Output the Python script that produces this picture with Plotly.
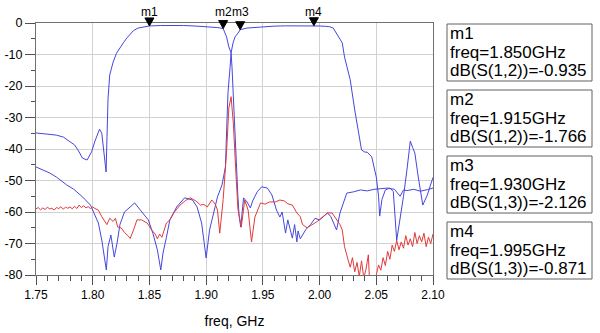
import plotly.graph_objects as go

# ---------------- data ----------------
s12_freq = [1.750, 1.756, 1.762, 1.768, 1.774, 1.780, 1.784, 1.787, 1.791, 1.795, 1.799, 1.802,
            1.804, 1.806, 1.808, 1.809, 1.8105, 1.811, 1.8118, 1.8126, 1.8135, 1.815, 1.818, 1.821,
            1.824, 1.827, 1.830, 1.833, 1.836, 1.840, 1.844, 1.850, 1.860, 1.870, 1.880, 1.890,
            1.900, 1.906, 1.910, 1.915, 1.918, 1.920, 1.922, 1.9228, 1.9237, 1.9246, 1.926, 1.927,
            1.928, 1.929, 1.9305, 1.933, 1.936, 1.939, 1.941, 1.945, 1.949, 1.954, 1.958, 1.962,
            1.965, 1.967, 1.970, 1.972, 1.974, 1.976, 1.978, 1.980, 1.981, 1.983, 1.985, 1.988,
            1.992, 1.996, 2.000, 2.005, 2.007, 2.010, 2.012, 2.015, 2.018, 2.021, 2.024, 2.030,
            2.036, 2.042, 2.048, 2.054, 2.060, 2.066, 2.071, 2.074, 2.077, 2.083, 2.089, 2.095, 2.100]
s12_db = [-34.9, -35.1, -35.2, -35.6, -36.2, -37.8, -38.7, -40.3, -42.9, -43.5, -40.9, -37.5,
          -35.6, -33.7, -35.0, -38.5, -42.0, -45.5, -47.3, -36.0, -24.0, -16.5, -12.4, -9.6,
          -7.8, -6.3, -4.8, -3.5, -2.4, -1.6, -1.3, -0.935, -0.8, -0.75, -0.8, -0.95,
          -1.15, -1.3, -1.45, -1.766, -4.4, -7.6, -9.5, -14.0, -22.0, -30.8, -40.0, -47.0,
          -55.0, -61.0, -64.8, -55.5, -56.8, -58.7, -56.5, -53.6, -52.0, -52.4, -54.6, -59.4,
          -61.6, -60.0, -66.7, -62.5, -65.0, -68.3, -64.0, -69.5, -66.0, -68.5, -67.3, -65.5,
          -64.0, -62.0, -62.5, -61.0, -60.3, -61.5, -63.0, -65.7, -60.3, -56.8, -54.0, -53.6,
          -53.0, -53.3, -52.8, -52.6, -52.4, -52.8, -55.0, -53.0, -53.2, -52.8, -53.4, -52.9, -52.4]

s13_freq = [1.750, 1.756, 1.762, 1.768, 1.777, 1.783, 1.786, 1.791, 1.798, 1.800, 1.805, 1.808,
            1.812, 1.8135, 1.816, 1.819, 1.8215, 1.824, 1.828, 1.833, 1.837, 1.842, 1.846, 1.849,
            1.853, 1.857, 1.860, 1.862, 1.865, 1.868, 1.874, 1.881, 1.888, 1.892, 1.896, 1.900,
            1.903, 1.908, 1.910, 1.914, 1.917, 1.9184, 1.9193, 1.9211, 1.922, 1.9237, 1.9255, 1.9281,
            1.930, 1.936, 1.9475, 1.960, 1.970, 1.980, 1.990, 1.995, 2.000, 2.005, 2.009, 2.012,
            2.016, 2.020, 2.022, 2.027, 2.031, 2.035, 2.037, 2.040, 2.042, 2.046, 2.050, 2.052,
            2.053, 2.055, 2.058, 2.062, 2.065, 2.068, 2.071, 2.074, 2.077, 2.080, 2.082, 2.084,
            2.087, 2.091, 2.095, 2.100]
s13_db = [-45.7, -46.7, -47.6, -48.9, -51.4, -52.7, -53.6, -55.2, -57.8, -59.4, -63.5, -68.9,
          -78.4, -71.0, -67.3, -74.3, -69.8, -64.0, -60.0, -58.4, -57.1, -59.4, -61.0, -62.5,
          -66.7, -72.0, -78.4, -73.0, -68.0, -62.5, -58.4, -55.5, -56.2, -58.4, -63.5, -74.6,
          -65.7, -57.8, -55.2, -51.4, -45.7, -30.8, -22.0, -14.0, -9.5, -6.3, -4.4, -3.2,
          -2.126, -1.6, -1.2, -1.0, -0.9, -0.85, -0.85, -0.871, -0.95, -1.05, -1.2, -1.6,
          -3.8, -6.3, -10.8, -18.0, -27.6, -36.0, -40.3, -41.0, -41.0, -42.5, -48.9, -55.0,
          -61.3, -56.0, -53.0, -52.4, -53.5, -69.0, -62.5, -55.0, -46.7, -37.5, -39.5, -41.3,
          -48.9, -57.8, -54.6, -49.0]

s23_freq = [1.750, 1.752, 1.754, 1.756, 1.758, 1.760, 1.762, 1.764, 1.766, 1.768, 1.770, 1.772,
            1.774, 1.776, 1.778, 1.780, 1.782, 1.784, 1.786, 1.788, 1.790, 1.792, 1.794, 1.796,
            1.798, 1.800, 1.802, 1.805, 1.808, 1.8125, 1.815, 1.818, 1.820, 1.822, 1.825, 1.828,
            1.831, 1.833, 1.836, 1.839, 1.843, 1.846, 1.848, 1.852, 1.855, 1.857, 1.859, 1.861,
            1.863, 1.865, 1.868, 1.872, 1.877, 1.882, 1.886, 1.891, 1.895, 1.898, 1.901, 1.905,
            1.908, 1.910, 1.912, 1.915, 1.918, 1.920, 1.922, 1.924, 1.926, 1.928, 1.931, 1.934,
            1.937, 1.940, 1.943, 1.948, 1.952, 1.956, 1.961, 1.965, 1.969, 1.972, 1.976, 1.980,
            1.983, 1.985, 1.989, 1.993, 1.998, 2.003, 2.007, 2.011, 2.015, 2.018, 2.020, 2.022,
            2.025, 2.027, 2.029, 2.031, 2.033, 2.035, 2.037, 2.039, 2.041, 2.043, 2.044, 2.046,
            2.048, 2.050, 2.052, 2.054, 2.056, 2.058, 2.060, 2.062, 2.064, 2.066, 2.068, 2.070,
            2.072, 2.074, 2.076, 2.078, 2.080, 2.082, 2.084, 2.086, 2.088, 2.090, 2.092, 2.094,
            2.096, 2.098, 2.100]
s23_db = [-59.0, -58.6, -59.3, -58.7, -59.2, -58.5, -59.0, -58.8, -59.4, -58.6, -58.9, -58.3,
          -59.1, -58.5, -58.8, -58.4, -59.0, -58.2, -58.9, -57.8, -58.6, -58.0, -58.7, -58.3,
          -58.9, -58.4, -58.9, -59.4, -61.5, -64.0, -62.0, -63.0, -62.0, -64.8, -65.0, -66.5,
          -67.5, -68.4, -65.7, -62.5, -62.5, -63.2, -63.5, -65.7, -67.0, -68.5, -67.0, -68.0,
          -66.0, -63.5, -62.5, -60.0, -57.8, -56.3, -55.5, -56.5, -57.8, -57.6, -58.4, -56.2,
          -57.5, -59.4, -66.7, -56.0, -41.0, -27.0, -23.4, -32.0, -46.0, -59.0, -64.8, -56.2,
          -59.4, -69.5, -61.6, -57.1, -57.5, -56.8, -56.8, -56.2, -56.5, -57.4, -57.8, -60.3,
          -61.5, -64.0, -65.0, -64.2, -63.0, -61.5, -60.3, -60.3, -62.5, -64.0, -65.7, -71.0,
          -75.0, -77.5, -74.5, -79.0, -76.0, -80.5, -75.5, -81.0, -78.0, -73.6, -81.5, -80.5,
          -82.0, -80.0, -76.8, -78.5, -74.5, -77.0, -72.5, -75.0, -70.5, -72.5, -69.0, -72.0,
          -69.5, -71.5, -67.5, -70.5, -68.5, -71.0, -66.5, -70.0, -67.5, -69.5, -66.7, -71.0,
          -68.0, -70.0, -67.0]

mk_names = ["m1", "m2", "m3", "m4"]
mk_freq = [1.850, 1.915, 1.930, 1.995]
mk_db = [-0.935, -1.766, -2.126, -0.871]
mk_param = ["S(1,2)", "S(1,2)", "S(1,3)", "S(1,3)"]

x_ticks = [1.75, 1.80, 1.85, 1.90, 1.95, 2.00, 2.05, 2.10]
x_ticktext = ["1.75", "1.80", "1.85", "1.90", "1.95", "2.00", "2.05", "2.10"]
y_ticks = [-80, -70, -60, -50, -40, -30, -20, -10, 0]
y_ticktext = ["-80", "-70", "-60", "-50", "-40", "-30", "-20", "-10", "0"]

# ---------------- styling / layout ----------------
W, H = 600, 333
L, R, T, B = 36, 167, 23, 58
PW, PH = W - L - R, H - T - B
FONT = "Liberation Sans, Arial, sans-serif"
BLUE = "#4646e0"
RED = "#e23a3a"

def px2paper_x(px):
    return (px - L) / PW

def px2paper_y(py):
    return (H - B - py) / PH

fig = go.Figure()
fig.add_trace(go.Scatter(x=s12_freq, y=s12_db, mode="lines", line=dict(color=BLUE, width=1), name="dB(S(1,2))"))
fig.add_trace(go.Scatter(x=s13_freq, y=s13_db, mode="lines", line=dict(color=BLUE, width=1), name="dB(S(1,3))"))
fig.add_trace(go.Scatter(x=s23_freq, y=s23_db, mode="lines", line=dict(color=RED, width=1), name="dB(S(2,3))"))

ymin, ymax = y_ticks[0], y_ticks[-1]
shapes = []
annotations = []
for name, f, v in zip(mk_names, mk_freq, mk_db):
    yp = (v - ymin) / (ymax - ymin)
    shapes.append(dict(type="path", xref="x", yref="paper", xsizemode="pixel", ysizemode="pixel",
                       xanchor=f, yanchor=yp, path="M-4.5,8 L4.5,8 L0,0 Z",
                       fillcolor="black", line=dict(color="black", width=1)))
    annotations.append(dict(x=f, y=px2paper_y(12.5), xref="x", yref="paper", text=name, showarrow=False,
                            xanchor="center", yanchor="middle", font=dict(family=FONT, size=12, color="black")))

box_tops = [24, 90, 156, 222]
for name, f, v, p, top in zip(mk_names, mk_freq, mk_db, mk_param, box_tops):
    shapes.append(dict(type="rect", xref="paper", yref="paper",
                       x0=px2paper_x(447), x1=px2paper_x(592), y0=px2paper_y(top), y1=px2paper_y(top + 57),
                       line=dict(color="#606060", width=1), fillcolor="rgba(0,0,0,0)"))
    lines = [name, "freq=%.3fGHz" % f, "dB(%s)=%.3f" % (p, v)]
    for i, txt in enumerate(lines):
        annotations.append(dict(x=px2paper_x(448), y=px2paper_y(top + 9.5 + 18.5 * i), xref="paper", yref="paper",
                                text=txt, showarrow=False, xanchor="left", yanchor="middle",
                                font=dict(family=FONT, size=17, color="black")))

fig.update_layout(
    width=W, height=H, margin=dict(l=L, r=R, t=T, b=B, pad=0, autoexpand=False),
    paper_bgcolor="white", plot_bgcolor="white", showlegend=False,
    font=dict(family=FONT, color="black"),
    shapes=shapes, annotations=annotations,
)
fig.update_xaxes(range=[x_ticks[0], x_ticks[-1]], tickvals=x_ticks, ticktext=x_ticktext, automargin=False,
                 showgrid=True, gridcolor="#d2d2d2", gridwidth=1, zeroline=False,
                 showline=True, linecolor="#707070", linewidth=1, mirror=True,
                 ticks="outside", ticklen=9, tickcolor="#505050", tickwidth=1,
                 minor=dict(dtick=0.01, tick0=1.75, ticks="outside", ticklen=5, tickcolor="#505050", showgrid=False),
                 tickfont=dict(family=FONT, size=12, color="black"),
                 title=dict(text="freq, GHz", font=dict(family=FONT, size=14, color="black"), standoff=14))
fig.update_yaxes(range=[ymin, ymax], tickvals=y_ticks, ticktext=y_ticktext, automargin=False,
                 showgrid=True, gridcolor="#d2d2d2", gridwidth=1, zeroline=False,
                 showline=True, linecolor="#707070", linewidth=1, mirror=True,
                 ticks="outside", ticklen=10, tickcolor="#505050", tickwidth=1,
                 minor=dict(dtick=5, tick0=0, ticks="outside", ticklen=4, tickcolor="#505050", showgrid=False),
                 tickfont=dict(family=FONT, size=12.5, color="black"))

fig.write_html("out.html")
